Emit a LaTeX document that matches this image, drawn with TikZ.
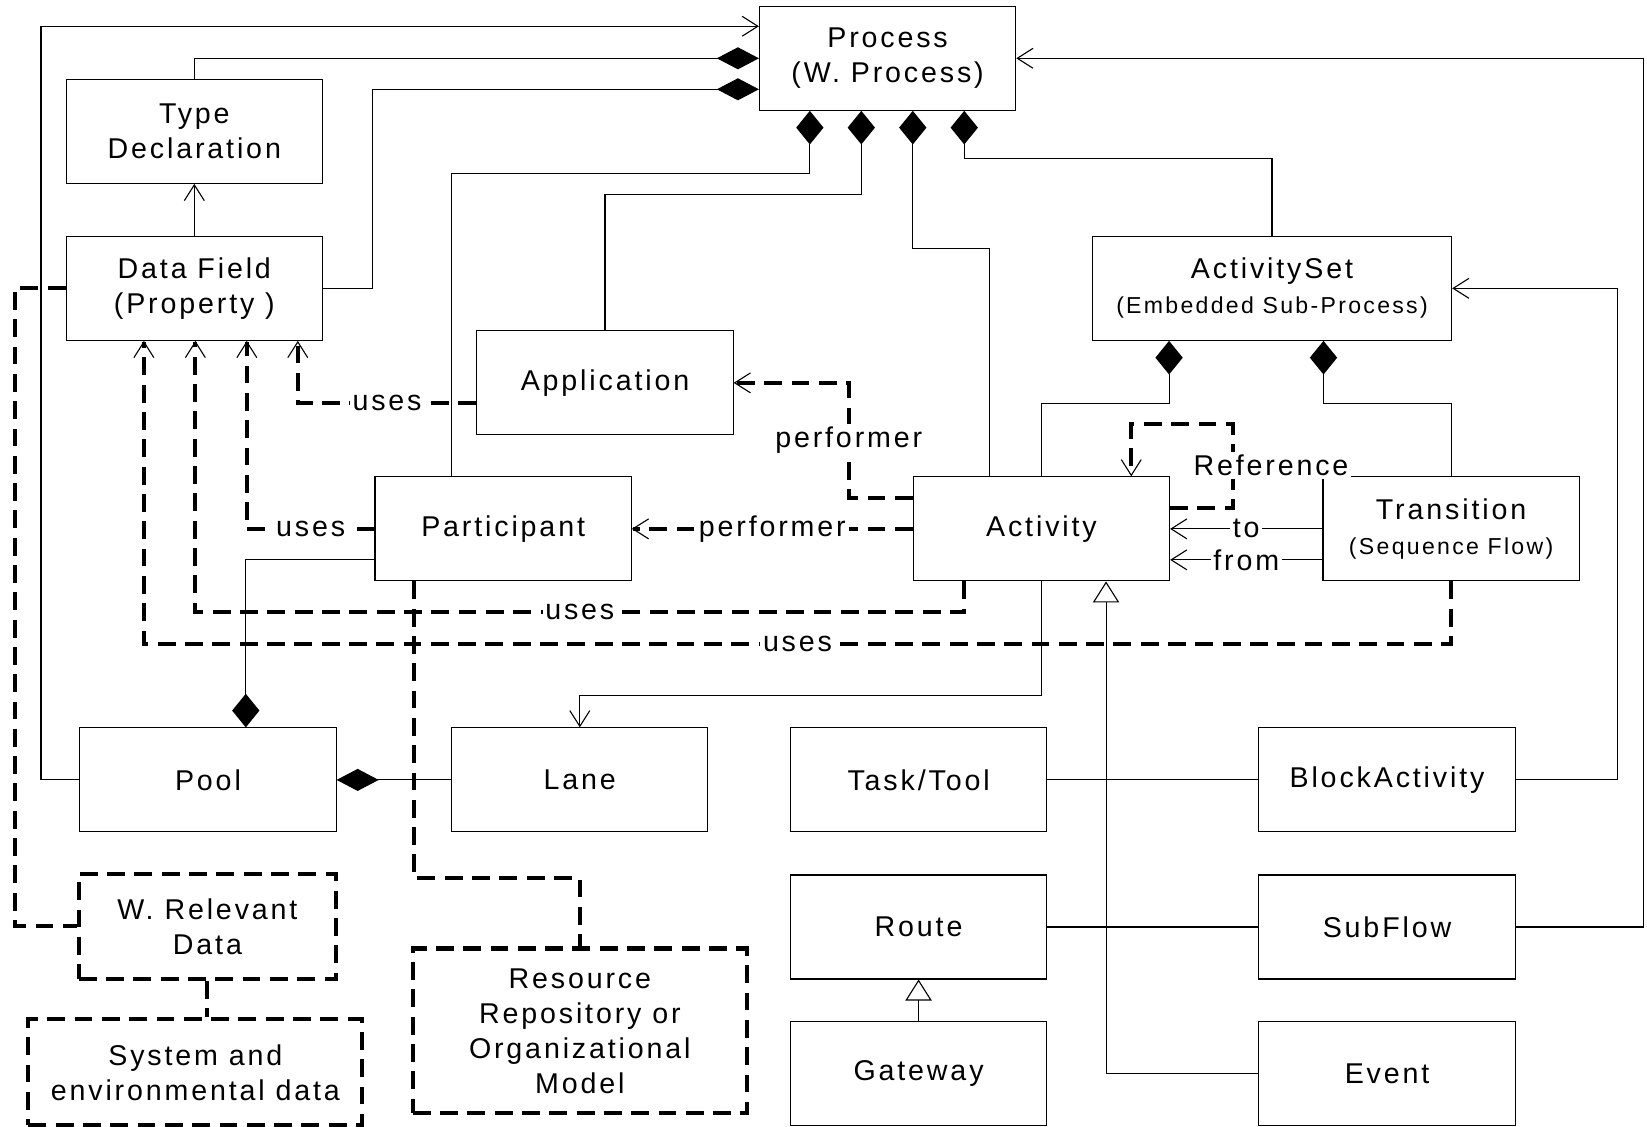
\documentclass[tikz,border=0pt]{standalone}
\usepackage{fontspec}
\setmainfont{Liberation Sans}[LetterSpace=10]
\usetikzlibrary{arrows.meta}
\newcommand{\smalltxt}[1]{{\fontsize{12.5}{14}\selectfont #1}}
\begin{document}
\begin{tikzpicture}[x=0.02cm, y=-0.02cm,
    box/.style={draw, line width=0.6pt, fill=white, minimum width=4.88cm, minimum height=1.98cm, align=center, inner sep=1pt, font=\fontsize{15.5}{19}\selectfont},
    dep/.style={line width=2.2pt, dash pattern=on 0.34cm off 0.18cm},
    dbox/.style={box, dep, minimum width=4.9cm, minimum height=2cm},
    conn/.style={line width=0.6pt},
    lbl/.style={fill=white, inner sep=1.5pt, font=\fontsize{15.5}{16}\selectfont},
    barb/.style={-{Straight Barb[length=0.3cm,width=0.38cm,line width=0.6pt]}},
    gen/.style={-{Triangle[open,length=0.4cm,width=0.5cm,line width=0.6pt]}},
    vdia/.style={{Diamond[length=0.64cm,width=0.52cm]}-},
    hdia/.style={{Diamond[length=0.8cm,width=0.42cm]}-}]
    \useasboundingbox (0,0) rectangle (1568,1072);
    % classes
    \node[box] (proc) at (845,55.5) {Process\\(W. Process)};
    \node[box] (tdecl) at (185,125) {Type\\Declaration};
    \node[box] (dfield) at (185,274.5) {Data Field\\(Property )};
    \node[box] (appl) at (576,364.5) {Application};
    \node[box, minimum width=6.84cm] (aset) at (1211,274.5) {ActivitySet\\\smalltxt{(Embedded Sub-Process)}};
    \node[box] (part) at (479,503.5) {Participant};
    \node[box] (act) at (991.5,503.5) {Activity};
    \node[box] (trans) at (1381.5,503.5) {Transition\\\smalltxt{(Sequence Flow)}};
    \node[box] (pool) at (198,742.5) {Pool};
    \node[box] (lane) at (552,742.5) {Lane};
    \node[box] (task) at (874.5,742.5) {Task/Tool};
    \node[box] (block) at (1320.5,742.5) {BlockActivity};
    \node[box] (route) at (874.5,882.5) {Route};
    \node[box] (subflow) at (1320.5,882.5) {SubFlow};
    \node[box] (gate) at (874.5,1022) {Gateway};
    \node[box] (event) at (1320.5,1022) {Event};
    \node[dbox] (wrel) at (197.5,882) {W. Relevant\\Data};
    \node[dbox, minimum width=6.36cm, minimum height=2.02cm] (sysenv) at (186,1021) {System and\\environmental data};
    \node[dbox, minimum width=6.36cm, minimum height=3.14cm] (res) at (552,981.5) {Resource\\Repository or\\Organizational\\Model};
    % associations and composition
    \draw[conn,barb] (pool.west) -| (39,25) -- (proc.west |- 0,25);
    \draw[conn,hdia] (proc.west) -| (tdecl.north);
    \draw[conn,hdia] (proc.west |- 0,85) -| (355,274.5) -- (dfield.east);
    \draw[conn,barb] (subflow.east) -| (1565,55.5) -- (proc.east);
    \draw[conn,barb] (block.east) -| (1540,274.5) -- (aset.east);
    \draw[conn,vdia] (771,0 |- proc.south) |- (430,165) -- (430,0 |- part.north);
    \draw[conn,vdia] (820,0 |- proc.south) |- (576,185) -- (appl.north);
    \draw[conn,vdia] (869,0 |- proc.south) |- (942,237) -- (942,0 |- act.north);
    \draw[conn,vdia] (918,0 |- proc.south) |- (1211,151) -- (aset.north);
    \draw[conn,vdia] (1113,0 |- aset.south) |- (991.5,384) -- (act.north);
    \draw[conn,vdia] (1260,0 |- aset.south) |- (1381.5,384) -- (trans.north);
    \draw[conn,barb] (dfield.north) -- (tdecl.south);
    \draw[conn,vdia] (234,0 |- pool.north) |- (part.west |- 0,533);
    \draw[conn,hdia] (pool.east) -- (lane.west);
    \draw[conn,barb] (act.south) |- (552,662) -- (lane.north);
    \draw[conn,barb] (trans.west) -- node[lbl]{to} (act.east);
    \draw[conn,barb] (trans.west |- 0,533) -- node[lbl]{from} (act.east |- 0,533);
    % generalization
    \draw[conn] (task.east) -- (block.west);
    \draw[conn] (route.east) -- (subflow.west);
    \draw[conn,gen] (event.west) -| (1053,0 |- act.south);
    \draw[conn,gen] (gate.north) -- (route.south);
    % dependencies
    \draw[dep,barb] (appl.west |- 0,384) -| node[lbl,pos=0.25]{uses} (283.5,0 |- dfield.south);
    \draw[dep,barb] (part.west) -| node[lbl,pos=0.25]{uses} (235,0 |- dfield.south);
    \draw[dep,barb] (918,0 |- act.south) |- node[lbl,pos=0.75]{uses} (186,583) -- (186,0 |- dfield.south);
    \draw[dep,barb] (trans.south) |- node[lbl,pos=0.75]{uses} (137,613) -- (137,0 |- dfield.south);
    \draw[dep,barb] (act.west) -- node[lbl]{performer} (part.east);
    \draw[dep,barb] (act.west |- 0,474) -| node[lbl,pos=0.75]{performer} (808,0 |- appl.east) -- (appl.east);
    \draw[dep] (394,0 |- part.south) |- (552,836) -- (res.north);
    \draw[dep] (dfield.west) -| (14,882) -- (wrel.west);
    \draw[dep] (wrel.south) -- (wrel.south |- sysenv.north);
    \draw[dep,barb] (act.east |- 0,484) -| (1174,404) -| (1077,0 |- act.north);
    \node[lbl] (refl) at (1210,443) {Reference};
\end{tikzpicture}
\end{document}
